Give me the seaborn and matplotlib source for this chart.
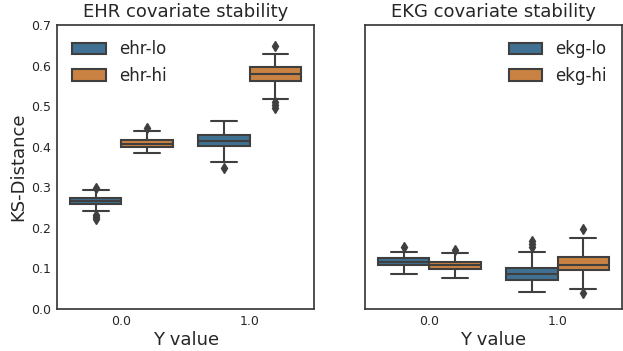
import matplotlib
matplotlib.use("Agg")
import matplotlib.pyplot as plt
import seaborn as sns
import pandas as pd

sns.set_style("white")
plt.rcParams["font.family"] = ["DejaVu Sans"]

y_values = [0.0, 1.0]

# KS-distance samples per group (sorted; quartiles land on picture's box edges)
ehr_lo_y0 = [0.222, 0.227, 0.232, 0.242, 0.258, 0.261, 0.263, 0.265, 0.266,
             0.267, 0.269, 0.271, 0.274, 0.280, 0.286, 0.293, 0.299]
ehr_hi_y0 = [0.385, 0.390, 0.394, 0.397, 0.399, 0.402, 0.404, 0.406, 0.4075,
             0.409, 0.412, 0.414, 0.4166, 0.420, 0.428, 0.4385, 0.446]
ehr_lo_y1 = [0.348, 0.362, 0.380, 0.395, 0.402, 0.406, 0.410, 0.413, 0.415,
             0.418, 0.422, 0.426, 0.429, 0.438, 0.448, 0.456, 0.464]
ehr_hi_y1 = [0.497, 0.503, 0.510, 0.518, 0.563, 0.570, 0.575, 0.578, 0.580,
             0.583, 0.588, 0.592, 0.596, 0.605, 0.615, 0.628, 0.648]

ekg_lo_y0 = [0.086, 0.092, 0.098, 0.104, 0.1085, 0.111, 0.114, 0.116, 0.1166,
             0.118, 0.121, 0.124, 0.1257, 0.130, 0.135, 0.141, 0.153]
ekg_hi_y0 = [0.077, 0.085, 0.092, 0.097, 0.0994, 0.102, 0.105, 0.107, 0.1077,
             0.109, 0.112, 0.115, 0.1166, 0.121, 0.128, 0.137, 0.145]
ekg_lo_y1 = [0.041, 0.052, 0.062, 0.068, 0.0723, 0.076, 0.080, 0.084, 0.0863,
             0.090, 0.095, 0.099, 0.1018, 0.141, 0.153, 0.160, 0.168]
ekg_hi_y1 = [0.0387, 0.0485, 0.070, 0.085, 0.0953, 0.100, 0.105, 0.108, 0.109,
             0.112, 0.118, 0.124, 0.128, 0.140, 0.155, 0.175, 0.196]


def make_df(groups):
    rows = []
    for name, yv, vals in groups:
        for v in vals:
            rows.append({"Y value": yv, "KS-Distance": v, "group": name})
    return pd.DataFrame(rows)


ehr_df = make_df([("ehr-lo", y_values[0], ehr_lo_y0), ("ehr-hi", y_values[0], ehr_hi_y0),
                  ("ehr-lo", y_values[1], ehr_lo_y1), ("ehr-hi", y_values[1], ehr_hi_y1)])
ekg_df = make_df([("ekg-lo", y_values[0], ekg_lo_y0), ("ekg-hi", y_values[0], ekg_hi_y0),
                  ("ekg-lo", y_values[1], ekg_lo_y1), ("ekg-hi", y_values[1], ekg_hi_y1)])

palette = ["#3274a1", "#e1812c"]
box_kw = dict(x="Y value", y="KS-Distance", hue="group", palette=palette,
              linecolor="#3f3f3f", linewidth=1.5, fliersize=5,
              flierprops=dict(marker="d", markerfacecolor="#3f3f3f", markeredgecolor="#3f3f3f"))

fig, (ax1, ax2) = plt.subplots(1, 2, figsize=(6.23, 3.51), dpi=100, sharey=True)
fig.subplots_adjust(left=0.092, right=0.998, bottom=0.12, top=0.928, wspace=0.2)

sns.boxplot(data=ehr_df, ax=ax1, hue_order=["ehr-lo", "ehr-hi"], **box_kw)
sns.boxplot(data=ekg_df, ax=ax2, hue_order=["ekg-lo", "ekg-hi"], **box_kw)

ax1.set_ylim(0, 0.7)
for ax, title in [(ax1, "EHR covariate stability"), (ax2, "EKG covariate stability")]:
    ax.set_title(title, fontsize=13)
    ax.set_xlabel("Y value", fontsize=13, labelpad=2)
    ax.tick_params(labelsize=9, pad=1)
    for s in ax.spines.values():
        s.set_color("#3a3a3a")
        s.set_linewidth(1.25)
ax1.set_ylabel("KS-Distance", fontsize=13, labelpad=3)
ax2.set_ylabel("")
ax2.tick_params(labelleft=False)

ax1.legend(loc="upper left", frameon=False, fontsize=12)
ax2.legend(loc="upper right", frameon=False, fontsize=12)

fig.savefig("out.png", dpi=100)
